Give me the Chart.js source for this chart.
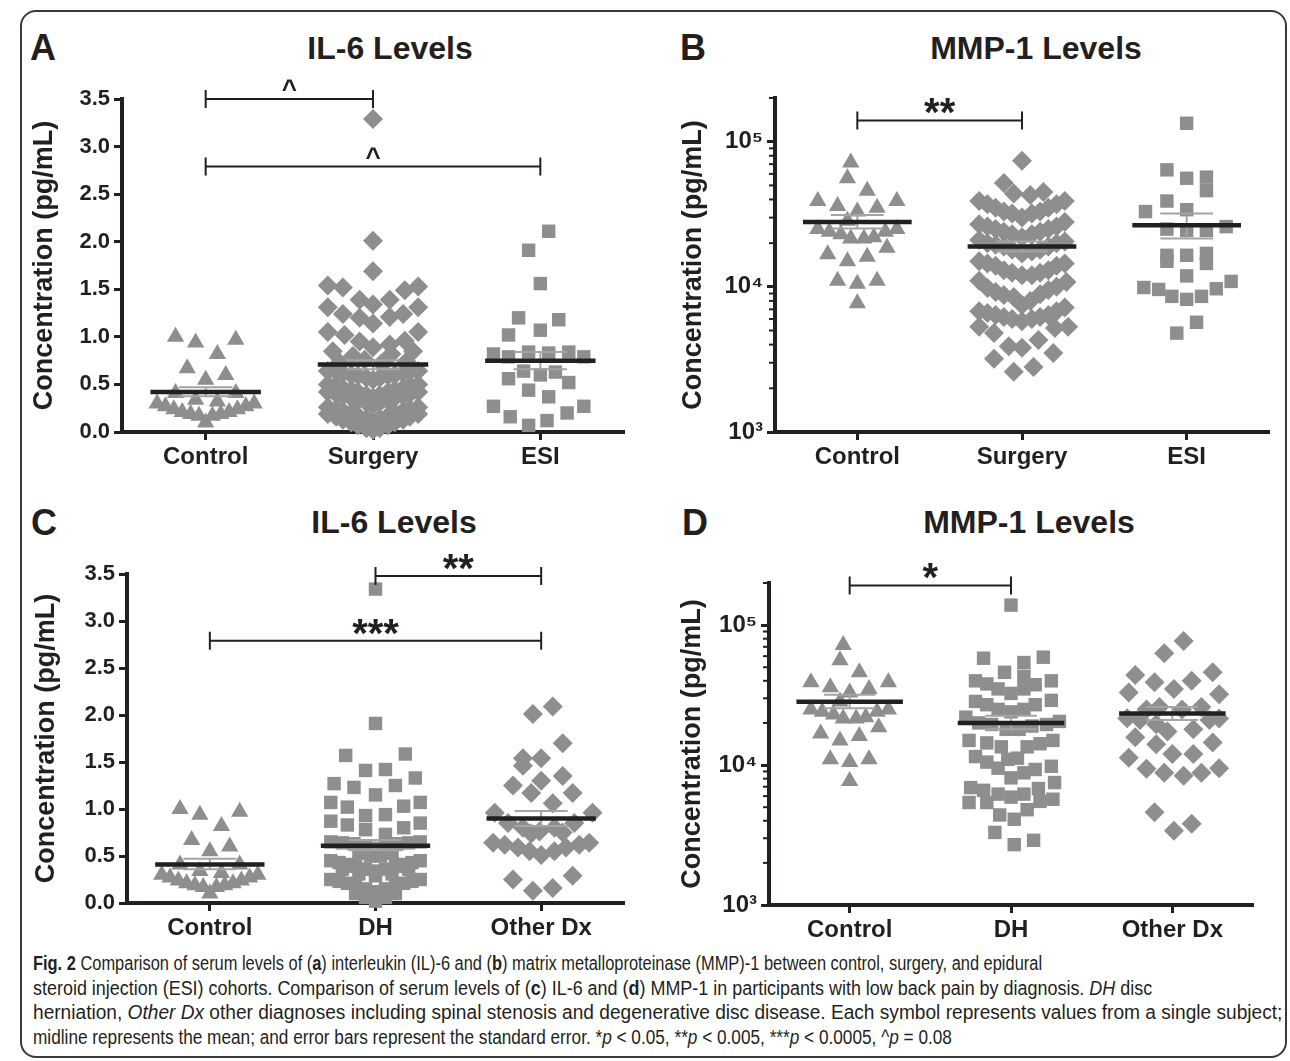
<!DOCTYPE html>
<html>
<head>
<meta charset="utf-8">
<script src="https://cdn.jsdelivr.net/npm/chart.js@4.4.1/dist/chart.umd.min.js"></script>
<style>
  body { margin: 0; background: #fff; }
  #fig { position: relative; width: 1290px; height: 1061px; overflow: hidden; background: #fff;
         font-family: "Liberation Sans", Arial, sans-serif; color: #231f20; }
  .frame { position: absolute; left: 20px; top: 10px; width: 1263px; height: 1044px;
           border: 2px solid #3a3a3a; border-radius: 16px; }
  canvas { position: absolute; }
  .lbl { position: absolute; font-weight: bold; font-size: 36px; line-height: 1; transform: translateY(-50%); }
  .ttl { position: absolute; font-weight: bold; font-size: 32px; line-height: 1; white-space: nowrap;
         transform: translate(-50%, -50%); }
  .cap { position: absolute; left: 33px; height: 22px; line-height: 22px; font-size: 20px; white-space: nowrap;
         font-family: "Liberation Sans Narrow", "Arial Narrow", "Liberation Sans", sans-serif;
         transform-origin: 0 50%; color: #231f20; }
</style>
</head>
<body>
<div id="fig">
  <div class="frame"></div>

  <div class="lbl" style="left:30px;top:48px">A</div>
  <div class="ttl" style="left:390px;top:48px">IL-6 Levels</div>
  <div class="lbl" style="left:680px;top:48px">B</div>
  <div class="ttl" style="left:1036px;top:48px">MMP-1 Levels</div>
  <div class="lbl" style="left:31px;top:523px">C</div>
  <div class="ttl" style="left:394px;top:522px">IL-6 Levels</div>
  <div class="lbl" style="left:682px;top:523px">D</div>
  <div class="ttl" style="left:1029px;top:522px">MMP-1 Levels</div>

  <canvas id="cA" width="645" height="420" style="left:0;top:60px"></canvas>
  <canvas id="cB" width="645" height="420" style="left:645px;top:60px"></canvas>
  <canvas id="cC" width="645" height="420" style="left:0;top:530px"></canvas>
  <canvas id="cD" width="645" height="420" style="left:645px;top:530px"></canvas>

  <div class="cap" data-end="1042" style="top:952px"><b>Fig. 2</b> Comparison of serum levels of (<b>a</b>) interleukin (IL)-6 and (<b>b</b>) matrix metalloproteinase (MMP)-1 between control, surgery, and epidural</div>
  <div class="cap" data-end="1152" style="top:977px">steroid injection (ESI) cohorts. Comparison of serum levels of (<b>c</b>) IL-6 and (<b>d</b>) MMP-1 in participants with low back pain by diagnosis. <i>DH</i> disc</div>
  <div class="cap" data-end="1282" style="top:1001px">herniation, <i>Other Dx</i> other diagnoses including spinal stenosis and degenerative disc disease. Each symbol represents values from a single subject;</div>
  <div class="cap" data-end="952" style="top:1026px">midline represents the mean; and error bars represent the standard error. *<i>p</i> &lt; 0.05, **<i>p</i> &lt; 0.005, ***<i>p</i> &lt; 0.0005, ^<i>p</i> = 0.08</div>
</div>

<script>
// ---- data ----
// each point: [horizontal offset from its column, value]
const catsTop    = ['Control', 'Surgery', 'ESI'];
const catsBottom = ['Control', 'DH', 'Other Dx'];

const il6Ticks   = [0, 0.5, 1, 1.5, 2, 2.5, 3, 3.5];
const logTicks   = [1000, 10000, 100000];
const logLabels  = ['10³', '10⁴', '10⁵'];
const logMinor   = [2000, 3000, 4000, 5000, 6000, 7000, 8000, 9000,
                    20000, 30000, 40000, 50000, 60000, 70000, 80000, 90000, 200000];

const il6Control = [
  [-0.18, 1.00], [-0.06, 0.94], [0.18, 0.97], [0.07, 0.82], [-0.11, 0.67], [0.00, 0.55], [0.12, 0.60],
  [-0.18, 0.41], [0.18, 0.41], [-0.06, 0.34], [0.07, 0.32],
  [-0.29, 0.30], [-0.24, 0.27], [-0.19, 0.24], [-0.14, 0.21], [-0.09, 0.19], [-0.04, 0.17],
  [0.00, 0.10],
  [0.04, 0.17], [0.09, 0.19], [0.14, 0.21], [0.19, 0.24], [0.24, 0.27], [0.29, 0.30]
];

const il6Surgery = [
  [0.00, 3.29], [0.00, 2.01], [0.00, 1.69],
  [-0.27, 1.54], [-0.18, 1.52], [0.19, 1.49], [0.27, 1.53],
  [-0.08, 1.39], [0.10, 1.39], [0.00, 1.34], [-0.27, 1.31], [0.27, 1.31],
  [-0.18, 1.24], [0.18, 1.24], [-0.08, 1.20], [0.10, 1.21], [0.00, 1.14],
  [-0.27, 1.05], [0.27, 1.05], [-0.17, 1.02], [0.19, 0.96],
  [-0.08, 0.95], [0.10, 0.92], [0.00, 0.89],
  [-0.24, 0.85], [0.24, 0.85], [-0.12, 0.80], [0.11, 0.82],
  [-0.20, 0.73], [0.20, 0.74], [-0.05, 0.76], [0.05, 0.72],
  [-0.27, 0.64], [-0.22, 0.63], [-0.18, 0.62], [-0.13, 0.60], [-0.09, 0.59], [-0.04, 0.57], [0.00, 0.55],
  [0.04, 0.57], [0.09, 0.59], [0.13, 0.60], [0.18, 0.62], [0.22, 0.63], [0.27, 0.64],
  [-0.27, 0.50], [-0.22, 0.48], [-0.18, 0.46], [-0.13, 0.44], [-0.09, 0.42], [-0.04, 0.39], [0.00, 0.36],
  [0.04, 0.39], [0.09, 0.42], [0.13, 0.44], [0.18, 0.46], [0.22, 0.48], [0.27, 0.50],
  [-0.27, 0.42], [-0.22, 0.40], [-0.18, 0.38], [-0.13, 0.36], [-0.09, 0.33], [-0.04, 0.31], [0.00, 0.28],
  [0.04, 0.31], [0.09, 0.33], [0.13, 0.36], [0.18, 0.38], [0.22, 0.40], [0.27, 0.42],
  [-0.27, 0.26], [-0.22, 0.24], [-0.18, 0.22], [-0.13, 0.20], [-0.09, 0.17], [-0.04, 0.14], [0.00, 0.10],
  [0.04, 0.14], [0.09, 0.17], [0.13, 0.20], [0.18, 0.22], [0.22, 0.24], [0.27, 0.26],
  [-0.27, 0.19], [-0.22, 0.16], [-0.18, 0.13], [-0.13, 0.10], [-0.09, 0.07], [-0.04, 0.04], [0.00, 0.02],
  [0.04, 0.04], [0.09, 0.07], [0.13, 0.10], [0.18, 0.13], [0.22, 0.16], [0.27, 0.19]
];

const il6Esi = [
  [0.05, 2.11], [-0.07, 1.91], [0.00, 1.56], [-0.13, 1.20], [0.11, 1.18], [-0.19, 1.02], [0.00, 1.07],
  [-0.28, 0.82], [-0.19, 0.79], [-0.07, 0.84], [0.05, 0.83], [0.17, 0.84], [0.26, 0.79],
  [-0.10, 0.64], [0.00, 0.60], [0.09, 0.63], [-0.19, 0.56], [0.17, 0.52], [-0.07, 0.44], [0.05, 0.37],
  [-0.28, 0.27], [0.26, 0.27], [0.16, 0.20], [-0.18, 0.16], [0.04, 0.12], [-0.07, 0.07]
];

const il6Dh = [
  [0.00, 3.34], [0.00, 1.91], [-0.18, 1.57], [0.18, 1.585], [-0.06, 1.41], [0.06, 1.42], [0.24, 1.33],
  [-0.25, 1.27], [-0.13, 1.23], [0.12, 1.25], [0.00, 1.15], [-0.27, 1.07], [0.27, 1.07],
  [-0.17, 1.02], [0.17, 1.03], [-0.06, 0.93], [0.06, 0.94], [-0.27, 0.87], [0.27, 0.85],
  [-0.17, 0.83], [0.17, 0.80], [-0.06, 0.78], [0.06, 0.73],
  [-0.27, 0.65], [-0.20, 0.64], [-0.13, 0.63], [-0.06, 0.60], [0.00, 0.58], [0.06, 0.60], [0.13, 0.63], [0.20, 0.64], [0.27, 0.65],
  [-0.10, 0.53], [-0.03, 0.50], [0.03, 0.50], [0.10, 0.53],
  [-0.27, 0.45], [-0.22, 0.43], [-0.17, 0.41], [-0.12, 0.39], [-0.06, 0.36], [0.00, 0.34],
  [0.06, 0.36], [0.12, 0.39], [0.17, 0.41], [0.22, 0.43], [0.27, 0.45],
  [-0.20, 0.36], [-0.10, 0.31], [0.00, 0.29], [0.10, 0.31], [0.20, 0.36],
  [-0.27, 0.25], [-0.22, 0.23], [-0.17, 0.21], [-0.12, 0.18], [-0.06, 0.15], [0.00, 0.12],
  [0.06, 0.15], [0.12, 0.18], [0.17, 0.21], [0.22, 0.23], [0.27, 0.25],
  [-0.12, 0.10], [-0.06, 0.06], [0.00, 0.02], [0.06, 0.06], [0.12, 0.10]
];

const il6Other = [
  [0.07, 2.09], [-0.05, 2.01], [0.13, 1.70], [-0.11, 1.54], [0.00, 1.54], [-0.11, 1.46], [0.13, 1.35],
  [0.00, 1.30], [-0.17, 1.25], [0.19, 1.17], [-0.06, 1.17], [0.07, 1.06], [-0.28, 0.96], [0.31, 0.96],
  [-0.20, 0.85], [-0.11, 0.80], [-0.01, 0.76], [0.08, 0.80], [0.20, 0.85], [-0.06, 0.74], [0.13, 0.75],
  [-0.29, 0.64], [-0.22, 0.62], [-0.14, 0.59], [-0.07, 0.55], [0.00, 0.51], [0.08, 0.55], [0.15, 0.59],
  [0.23, 0.62], [0.29, 0.64],
  [-0.17, 0.25], [0.19, 0.29], [-0.05, 0.13], [0.07, 0.16]
];

const mmpControl = [
  [-0.04, 72000], [-0.06, 56000], [0.06, 46000], [-0.24, 39000], [0.24, 39000], [-0.12, 36000], [0.12, 35000],
  [0.00, 33000], [-0.06, 28500],
  [-0.24, 25000], [0.24, 25000], [-0.17, 24000], [0.17, 24000], [-0.10, 23000], [0.10, 22000],
  [-0.04, 21500], [0.04, 21500],
  [0.18, 18600], [-0.18, 16800], [0.06, 16100], [-0.06, 15000],
  [-0.12, 11000], [0.00, 10500], [0.12, 11000], [0.00, 7700]
];

const mmpSurgery = [
  [0.00, 74000], [-0.11, 52000],
  [-0.05, 44000], [0.05, 43000], [0.13, 45000],
  [-0.26, 39000], [-0.21, 37000], [-0.16, 35000], [-0.11, 33000], [-0.06, 32000], [0.00, 30000],
  [0.06, 32000], [0.11, 33000], [0.16, 35000], [0.21, 37000], [0.26, 39000],
  [-0.26, 27000], [-0.21, 26000], [-0.16, 25000], [-0.11, 24000], [-0.06, 23000], [0.00, 22000],
  [0.06, 23000], [0.11, 24000], [0.16, 25000], [0.21, 26000], [0.26, 28000],
  [-0.26, 21000], [-0.21, 20000], [-0.16, 19500], [-0.11, 19000], [-0.06, 18000], [0.00, 17000],
  [0.06, 17500], [0.11, 18000], [0.16, 19000], [0.21, 20000], [0.26, 20500],
  [-0.26, 15000], [-0.21, 14500], [-0.16, 14000], [-0.11, 13000], [-0.06, 12500], [0.00, 12000],
  [0.06, 12000], [0.11, 12500], [0.16, 13000], [0.21, 14000], [0.26, 14500],
  [-0.26, 11000], [-0.21, 9800], [-0.16, 9200], [-0.11, 8800], [-0.05, 8500], [0.00, 7500],
  [0.05, 8000], [0.11, 8900], [0.16, 9500], [0.21, 10000], [0.27, 10800],
  [-0.26, 6800], [-0.21, 6600], [-0.16, 6400], [-0.11, 6200], [-0.06, 6000], [0.00, 5800],
  [0.06, 6000], [0.11, 6200], [0.16, 6400], [0.21, 6800], [0.26, 7200],
  [-0.26, 5300], [-0.17, 4800], [0.20, 5200], [0.28, 5300],
  [-0.08, 3900], [0.00, 3800], [0.10, 4300],
  [-0.17, 3200], [-0.05, 2600], [0.07, 2800], [0.19, 3500]
];

const mmpEsi = [
  [0.00, 134000], [-0.12, 64000], [0.00, 56000], [0.12, 57000], [0.12, 46000], [-0.12, 39000],
  [-0.25, 33000], [0.00, 34000],
  [-0.12, 25000], [0.00, 24500], [0.12, 24500], [0.24, 26000],
  [-0.12, 16500], [0.00, 16500], [0.12, 17000], [0.12, 14500], [-0.12, 15000], [0.00, 11900],
  [-0.26, 9900], [-0.17, 9600], [-0.09, 8600], [0.00, 8200], [0.09, 8600], [0.18, 9700], [0.27, 10900],
  [0.06, 5700], [-0.06, 4800]
];

const mmpDh = [
  [0.00, 139000], [-0.17, 58000], [0.08, 54000], [0.20, 59000], [-0.04, 46000], [0.08, 43000],
  [-0.22, 40000], [-0.15, 38000], [-0.08, 35000], [0.00, 32500], [0.08, 35000], [0.15, 37500], [0.25, 40000],
  [-0.22, 28500], [-0.15, 27000], [-0.08, 25000], [0.00, 24000], [0.08, 25000], [0.15, 27000], [0.25, 29000],
  [-0.28, 22000],
  [-0.20, 20000], [-0.12, 19500], [-0.03, 18000], [0.05, 18000], [0.13, 19000], [0.22, 19500], [0.30, 20500],
  [-0.26, 15000], [-0.15, 14400], [-0.06, 13500], [0.10, 13500], [0.18, 14200], [0.26, 15000],
  [-0.22, 11500], [-0.15, 10500], [-0.08, 9500], [-0.02, 11000], [0.04, 11200], [0.00, 8100],
  [0.08, 8800], [0.15, 9300], [0.25, 9800],
  [-0.25, 6900], [-0.17, 6600], [-0.08, 6200], [0.00, 5900], [0.08, 6200], [0.17, 6800], [0.27, 7500],
  [-0.26, 5400], [-0.15, 5400], [0.18, 5500], [0.26, 5700],
  [-0.07, 4400], [0.02, 4100], [0.10, 4800],
  [-0.10, 3300], [0.14, 2900], [0.02, 2700]
];

const mmpOther = [
  [0.07, 77000], [-0.05, 63000], [-0.23, 44000], [0.25, 46000], [-0.11, 39000], [0.12, 40000],
  [-0.27, 33000], [0.01, 35000], [0.29, 32000],
  [-0.16, 25000], [-0.08, 26000], [0.06, 25000], [0.18, 26000],
  [-0.28, 21600], [-0.20, 21000], [-0.10, 19600], [0.23, 21000], [0.29, 21500],
  [-0.03, 17400], [0.13, 18000],
  [-0.23, 15800], [0.25, 14500], [-0.10, 14100],
  [-0.27, 11300], [0.00, 12000], [0.13, 12000],
  [-0.16, 9400], [-0.05, 8800], [0.07, 8400], [0.18, 8800], [0.29, 9500],
  [-0.11, 4600], [0.01, 3400], [0.12, 3800]
];

// means and standard-error limits [low, high]
const meanA = [0.42, 0.71, 0.75];
const semA  = [[0.375, 0.47], [0.66, 0.755], [0.66, 0.84]];
const meanB = [28000, 19000, 26600];
const semB  = [[25200, 31200], [17500, 20500], [21500, 32000]];
const meanC = [0.41, 0.61, 0.90];
const semC  = [[0.36, 0.47], [0.56, 0.67], [0.82, 0.98]];
const meanD = [28400, 20000, 23400];
const semD  = [[25500, 31800], [18000, 22500], [21000, 26000]];

// significance brackets: [from column, to column, level, label]
const bracketsA = [[1, 2, 3.5, '^'], [1, 3, 2.79, '^']];
const bracketsB = [[1, 2, 140000, '**']];
const bracketsC = [[2, 3, 3.48, '**'], [1, 3, 2.79, '***']];
const bracketsD = [[1, 2, 192000, '*']];

// ---- drawing ----
const INK = '#231f20';
const DOT = '#8d8e90';
const SEM = '#a3a4a6';
const FONT = '"Liberation Sans", Arial, sans-serif';
const RADIUS = { triangle: 10, rectRot: 10, rect: 9.5 };

const extras = {
  id: 'extras',
  afterDraw(chart, args, opts) {
    const ctx = chart.ctx, xs = chart.scales.x, ys = chart.scales.y;
    ctx.save();
    ctx.strokeStyle = INK; ctx.fillStyle = INK;
    if (opts.minor) {
      ctx.lineWidth = 2;
      opts.minor.forEach(v => {
        const y = ys.getPixelForValue(v);
        ctx.beginPath(); ctx.moveTo(ys.right - 6, y); ctx.lineTo(ys.right, y); ctx.stroke();
      });
    }
    (opts.brackets || []).forEach(([a, b, v, txt]) => {
      const x1 = xs.getPixelForValue(a), x2 = xs.getPixelForValue(b), y = ys.getPixelForValue(v);
      ctx.lineWidth = 2;
      ctx.beginPath();
      ctx.moveTo(x1, y); ctx.lineTo(x2, y);
      ctx.moveTo(x1, y - 9); ctx.lineTo(x1, y + 9);
      ctx.moveTo(x2, y - 9); ctx.lineTo(x2, y + 9);
      ctx.stroke();
      const star = txt.indexOf('*') >= 0;
      ctx.font = 'bold ' + (star ? 40 : 26) + 'px ' + FONT;
      ctx.textAlign = 'center'; ctx.textBaseline = 'alphabetic';
      ctx.fillText(txt, (x1 + x2) / 2, star ? y + 6 : y - 1);
    });
    ctx.restore();
  }
};

function datasets(groups, styles, means, sems) {
  const ds = [];
  means.forEach((m, i) => {
    const c = i + 1;
    ds.push({ type: 'line', data: [{ x: c - 0.33, y: m }, { x: c + 0.33, y: m }],
      borderColor: INK, borderWidth: 4.5, pointRadius: 0, order: 0, clip: false });
  });
  sems.forEach(([lo, hi], i) => {
    const c = i + 1;
    ds.push({ type: 'line', data: [
        { x: c - 0.16, y: hi }, { x: c + 0.16, y: hi }, { x: c, y: null },
        { x: c, y: hi }, { x: c, y: lo }, { x: c, y: null },
        { x: c - 0.16, y: lo }, { x: c + 0.16, y: lo }],
      borderColor: SEM, borderWidth: 2, pointRadius: 0, spanGaps: false, order: 1, clip: false });
  });
  groups.forEach((g, i) => {
    const st = styles[i];
    ds.push({ type: 'scatter', data: g.map(([dx, v]) => ({ x: i + 1 + dx, y: v })),
      pointStyle: st, pointRadius: RADIUS[st],
      pointBackgroundColor: DOT, pointBorderWidth: 0, order: 2, clip: false });
  });
  return ds;
}

function panel(id, cats, groups, styles, means, sems, brackets, log, area) {
  const W = 645, H = 420;
  const yScale = log ? {
    type: 'logarithmic', min: 1000, max: 200000,
    afterBuildTicks: s => { s.ticks = logTicks.map(v => ({ value: v })); },
    ticks: { callback: v => logLabels[logTicks.indexOf(v)], font: { size: 24, weight: 'bold', family: FONT }, color: INK, padding: 4 }
  } : {
    type: 'linear', min: 0, max: 3.5,
    afterBuildTicks: s => { s.ticks = il6Ticks.map(v => ({ value: v })); },
    ticks: { callback: v => v.toFixed(1), font: { size: 22, weight: 'bold', family: FONT }, color: INK, padding: 4 }
  };
  Object.assign(yScale, {
    position: 'left',
    afterFit: s => { s.width = area.l - area.tl; },
    grid: { display: true, drawOnChartArea: false, drawTicks: true, tickLength: 8, tickWidth: 3, tickColor: INK },
    border: { display: true, color: INK, width: 4 },
    title: { display: true, text: 'Concentration (pg/mL)', color: INK, padding: 0,
             font: { size: 27, weight: 'bold', family: FONT } }
  });
  new Chart(document.getElementById(id), {
    type: 'scatter',
    data: { datasets: datasets(groups, styles, means, sems) },
    plugins: [extras],
    options: {
      responsive: false, animation: false, events: [],
      layout: { padding: { left: area.tl, right: W - area.r, top: area.t, bottom: 0 } },
      plugins: { legend: { display: false }, tooltip: { enabled: false }, extras: { brackets, minor: log ? logMinor : null } },
      scales: {
        x: {
          type: 'linear', min: 0.5, max: 3.5, position: 'bottom',
          afterBuildTicks: s => { s.ticks = cats.map((c, i) => ({ value: i + 1 })); },
          afterFit: s => { s.height = H - area.b; },
          ticks: { callback: v => cats[v - 1], font: { size: 24, weight: 'bold', family: FONT }, color: INK,
                   padding: 3, maxRotation: 0, autoSkip: false },
          grid: { display: true, drawOnChartArea: false, drawTicks: true, tickLength: 8, tickWidth: 3, tickColor: INK },
          border: { display: true, color: INK, width: 4 }
        },
        y: yScale
      }
    }
  });
}

const tri = 'triangle', dia = 'rectRot', sq = 'rect';
panel('cA', catsTop, [il6Control, il6Surgery, il6Esi], [tri, dia, sq], meanA, semA, bracketsA, false,
      { tl: 28, l: 122, r: 624, t: 39, b: 372 });
panel('cB', catsTop, [mmpControl, mmpSurgery, mmpEsi], [tri, dia, sq], meanB, semB, bracketsB, true,
      { tl: 32, l: 130, r: 624, t: 38, b: 372 });
panel('cC', catsBottom, [il6Control, il6Dh, il6Other], [tri, sq, dia], meanC, semC, bracketsC, false,
      { tl: 30, l: 127, r: 624, t: 44, b: 373 });
panel('cD', catsBottom, [mmpControl, mmpDh, mmpOther], [tri, sq, dia], meanD, semD, bracketsD, true,
      { tl: 31, l: 124, r: 608, t: 53, b: 375 });

// squeeze each caption line to the condensed width it has in the original
document.querySelectorAll('.cap').forEach(el => {
  const k = (+el.dataset.end - 33) / el.offsetWidth;
  el.style.transform = 'scaleX(' + k + ')';
});
</script>
</body>
</html>
